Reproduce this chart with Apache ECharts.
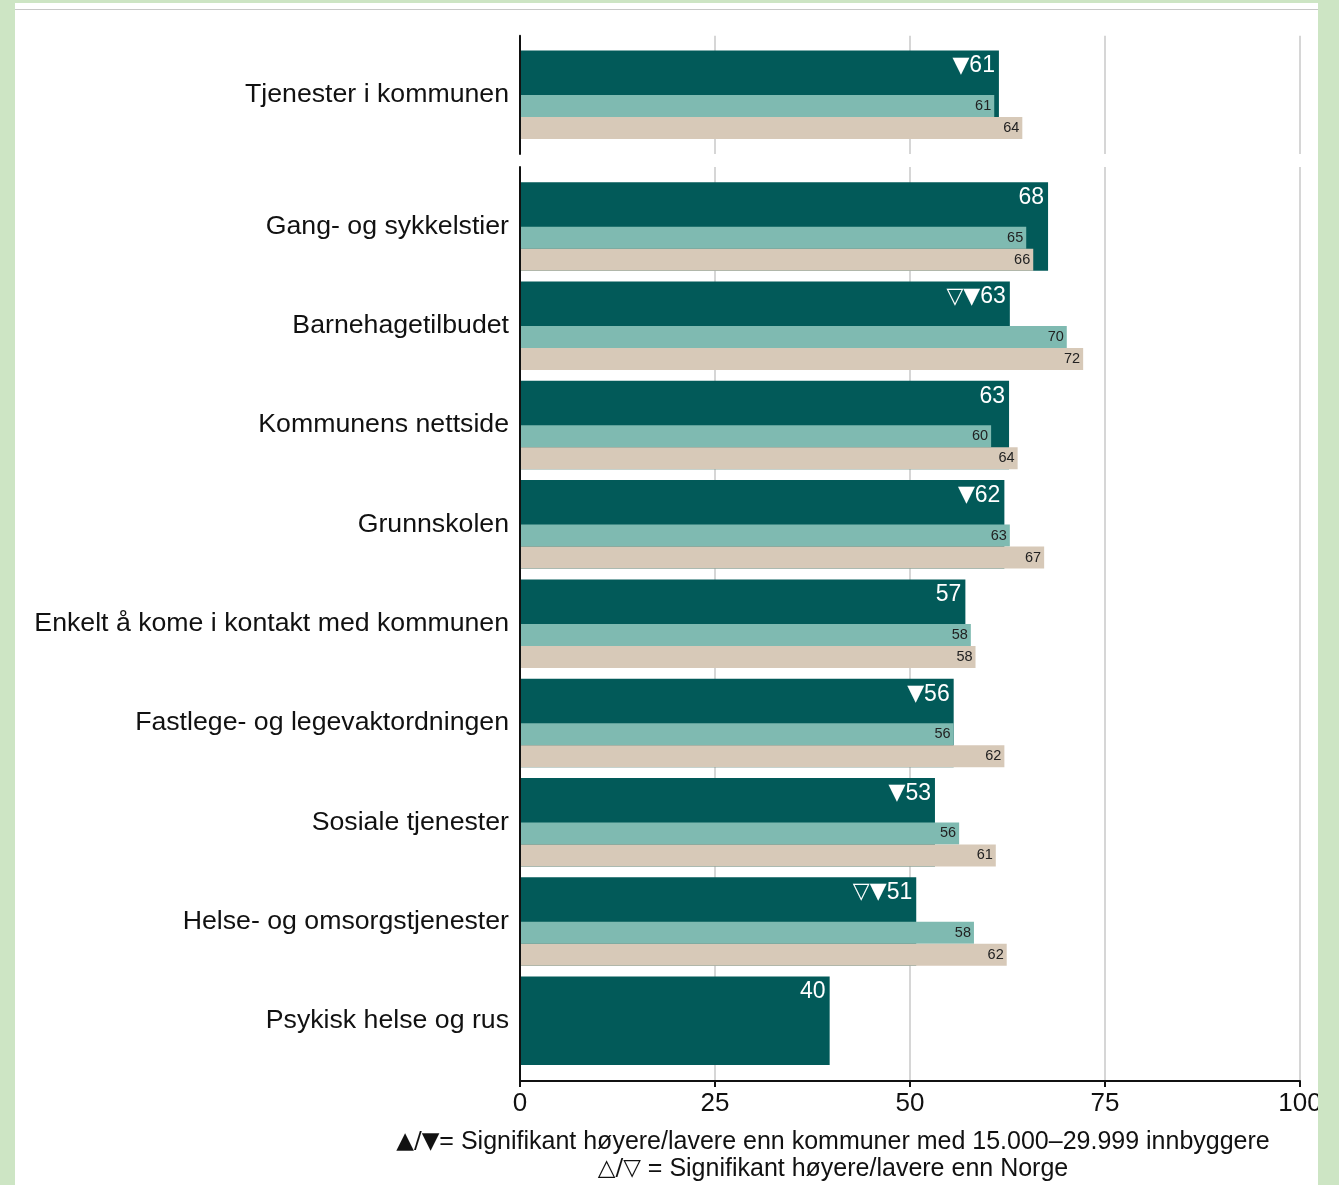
<!DOCTYPE html>
<html><head><meta charset="utf-8">
<script src="https://cdn.jsdelivr.net/npm/echarts@6/dist/echarts.min.js"></script>
<style>
html,body{margin:0;padding:0;background:#cde5c4;width:1339px;height:1185px;overflow:hidden}
#panel{position:absolute;left:15px;top:3px;width:1303px;height:1182px;background:#fff;overflow:hidden}
#topline{position:absolute;left:0;top:6px;width:1303px;height:1px;background:#c8c8c8}
#chart{position:absolute;left:-15px;top:-3px;width:1339px;height:1185px}
</style></head><body>
<div id="panel"><div id="topline"></div><div id="chart"></div></div>
<script>
const categories = [
  'Tjenester i kommunen',
  'Gang- og sykkelstier',
  'Barnehagetilbudet',
  'Kommunens nettside',
  'Grunnskolen',
  'Enkelt å kome i kontakt med kommunen',
  'Fastlege- og legevaktordningen',
  'Sosiale tjenester',
  'Helse- og omsorgstjenester',
  'Psykisk helse og rus'
];
const kommune       = [61.4, 67.7, 62.8, 62.7, 62.1, 57.1, 55.6, 53.2, 50.8, 39.7];
const kommunegruppe = [60.8, 64.9, 70.1, 60.4, 62.8, 57.8, 55.6, 56.3, 58.2, null];
const norge         = [64.4, 65.8, 72.2, 63.8, 67.2, 58.4, 62.1, 61.0, 62.4, null];
const sigMarks      = ['▼', '', '▽▼', '', '▼', '', '▼', '▼', '▽▼', ''];
const xTicks = [0, 25, 50, 75, 100];
const legendMarks = ['▲/▼', '△/▽'];
const legendTexts = [
  '= Signifikant høyere/lavere enn kommuner med 15.000–29.999 innbyggere',
  ' = Signifikant høyere/lavere enn Norge'
];

const FONT = "'Liberation Sans', Arial, Helvetica, sans-serif";
const SYM = "'DejaVu Sans', sans-serif";
const DARK = '#025a59';
const TEAL = '#7fbab1';
const BEIGE = '#d7c9b8';

const chart = echarts.init(document.getElementById('chart'), null, {renderer: 'canvas'});

function seriesFor(start, end, xIdx, yDark, yPair) {
  const dark = kommune.slice(start, end);
  const teal = kommunegruppe.slice(start, end).map(v => v == null ? '-' : v);
  const beige = norge.slice(start, end).map(v => v == null ? '-' : v);
  return [
    {
      type: 'bar', xAxisIndex: xIdx, yAxisIndex: yDark, barWidth: 88.5,
      data: dark, itemStyle: {color: DARK},
      label: {
        show: true, position: 'insideTopRight', distance: 4,
        color: '#fff', fontSize: 23, lineHeight: 23, fontFamily: FONT,
        formatter: p => {
          const m = sigMarks[start + p.dataIndex];
          return (m ? '{m|' + m + '}' : '') + Math.round(p.value);
        },
        rich: {m: {fontFamily: SYM, fontSize: 22, color: '#fff', lineHeight: 23}}
      }
    },
    {
      type: 'bar', xAxisIndex: xIdx, yAxisIndex: yPair, barWidth: 44.5, barGap: 0,
      data: dark.map(() => 0), itemStyle: {color: 'rgba(0,0,0,0)'}, silent: true
    },
    {
      type: 'bar', xAxisIndex: xIdx, yAxisIndex: yPair, barWidth: 22, barGap: 0,
      data: teal, itemStyle: {color: TEAL},
      label: {
        show: true, position: 'insideRight', distance: 3,
        color: '#222', fontSize: 14.5, fontFamily: FONT,
        formatter: p => Math.round(p.value)
      }
    },
    {
      type: 'bar', xAxisIndex: xIdx, yAxisIndex: yPair, barWidth: 22, barGap: 0,
      data: beige, itemStyle: {color: BEIGE},
      label: {
        show: true, position: 'insideRight', distance: 3,
        color: '#222', fontSize: 14.5, fontFamily: FONT,
        formatter: p => Math.round(p.value)
      }
    }
  ];
}

const split = {show: true, lineStyle: {color: '#d6d6d6', width: 2}};
const baseX = {type: 'value', min: xTicks[0], max: xTicks[xTicks.length - 1], interval: 25};
const catLabel = {color: '#111', fontSize: 26.7, margin: 11, fontFamily: FONT, padding: [5, 0, 0, 0]};

const option = {
  animation: false,
  backgroundColor: 'transparent',
  textStyle: {fontFamily: FONT},
  grid: [
    {left: 520, right: 39, top: 35.7, height: 118.3, outerBoundsMode: 'none', containLabel: false},
    {left: 520, right: 39, top: 167, height: 914, outerBoundsMode: 'none', containLabel: false},
    {left: 520, right: 39, top: 176.85, height: 893.6, outerBoundsMode: 'none', containLabel: false}
  ],
  xAxis: [
    Object.assign({}, baseX, {gridIndex: 0, axisLine: {show: false}, axisTick: {show: false}, axisLabel: {show: false}, splitLine: split}),
    Object.assign({}, baseX, {gridIndex: 1,
      axisLine: {show: true, lineStyle: {color: '#111', width: 2}},
      axisTick: {show: true, length: 6, lineStyle: {color: '#111', width: 2}},
      axisLabel: {show: true, color: '#111', fontSize: 26, margin: 10, fontFamily: FONT},
      splitLine: split}),
    Object.assign({}, baseX, {gridIndex: 2, show: false})
  ],
  yAxis: [
    {type: 'category', gridIndex: 0, inverse: true, data: categories.slice(0, 1), z: 5,
     axisLine: {show: true, lineStyle: {color: '#111', width: 2}}, axisTick: {show: false},
     axisLabel: catLabel},
    {type: 'category', gridIndex: 0, inverse: true, data: categories.slice(0, 1), show: false},
    {type: 'category', gridIndex: 1, data: [''], z: 5,
     axisLine: {show: true, lineStyle: {color: '#111', width: 2}}, axisTick: {show: false},
     axisLabel: {show: false}},
    {type: 'category', gridIndex: 2, inverse: true, data: categories.slice(1),
     axisLine: {show: false}, axisTick: {show: false},
     axisLabel: catLabel},
    {type: 'category', gridIndex: 2, inverse: true, data: categories.slice(1), show: false}
  ],
  series: [].concat(
    seriesFor(0, 1, 0, 0, 1),
    seriesFor(1, categories.length, 2, 3, 4)
  ),
  graphic: legendTexts.map((t, i) => ({
    type: 'text', x: 833, y: 1142 + i * 27, z: 10,
    style: {
      text: '{m|' + legendMarks[i] + '}{t|' + t + '}',
      textAlign: 'center', textVerticalAlign: 'middle', fill: '#111',
      rich: {
        m: {fontFamily: SYM, fontSize: 23, fill: '#111', lineHeight: 27},
        t: {fontFamily: FONT, fontSize: 25, fill: '#111', lineHeight: 27}
      }
    }
  }))
};
chart.setOption(option);
</script>
</body></html>
